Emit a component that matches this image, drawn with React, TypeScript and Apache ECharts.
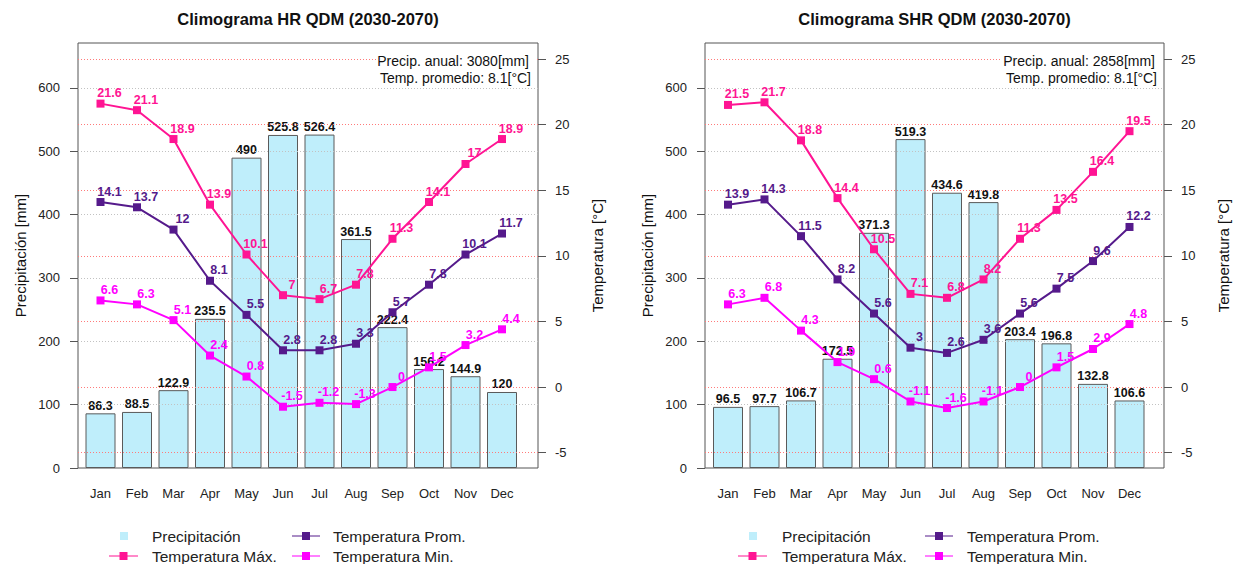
import React, { useEffect, useRef } from 'react';
import * as echarts from 'echarts';

const months = ['Jan', 'Feb', 'Mar', 'Apr', 'May', 'Jun', 'Jul', 'Aug', 'Sep', 'Oct', 'Nov', 'Dec'];

const precipHR = [86.3, 88.5, 122.9, 235.5, 490, 525.8, 526.4, 361.5, 222.4, 156.2, 144.9, 120];
const tmaxHR = [21.6, 21.1, 18.9, 13.9, 10.1, 7, 6.7, 7.8, 11.3, 14.1, 17, 18.9];
const tpromHR = [14.1, 13.7, 12, 8.1, 5.5, 2.8, 2.8, 3.3, 5.7, 7.8, 10.1, 11.7];
const tminHR = [6.6, 6.3, 5.1, 2.4, 0.8, -1.5, -1.2, -1.3, 0, 1.5, 3.2, 4.4];

const precipSHR = [96.5, 97.7, 106.7, 172.5, 371.3, 519.3, 434.6, 419.8, 203.4, 196.8, 132.8, 106.6];
const tmaxSHR = [21.5, 21.7, 18.8, 14.4, 10.5, 7.1, 6.8, 8.2, 11.3, 13.5, 16.4, 19.5];
const tpromSHR = [13.9, 14.3, 11.5, 8.2, 5.6, 3, 2.6, 3.6, 5.6, 7.5, 9.6, 12.2];
const tminSHR = [6.3, 6.8, 4.3, 1.9, 0.6, -1.1, -1.6, -1.1, 0, 1.5, 2.9, 4.8];

const titles = ['Climograma HR QDM (2030-2070)', 'Climograma SHR QDM (2030-2070)'];
const annualPrecip = ['3080', '2858'];
const meanTemp = ['8.1', '8.1'];

const precipTicks = [0, 100, 200, 300, 400, 500, 600];
const tempTicks = [-5, 0, 5, 10, 15, 20, 25];
const monthPositions = [1, 2, 3, 4, 5, 6, 7, 8, 9, 10, 11, 12];

const FONT = '"Liberation Sans", Arial, Helvetica, sans-serif';
const C_BAR = '#BFEEFB';
const C_MAX = '#FF1493';
const C_PROM = '#551A8B';
const C_MIN = '#FF00FF';
const C_GRID_GRAY = '#c2c2c2';
const C_GRID_RED = '#ff7a7a';

const panels = [
  {
    title: titles[0], precip: precipHR, tmax: tmaxHR, tprom: tpromHR, tmin: tminHR,
    annual: annualPrecip[0], mean: meanTemp[0],
    boxLeft: 78, boxRight: 538, janX: 100.5, step: 36.5,
    legend: { sq: 124, lineL: 109, lineR: 138, text: 152, lineL2: 292, lineR2: 320, text2: 333 },
  },
  {
    title: titles[1], precip: precipSHR, tmax: tmaxSHR, tprom: tpromSHR, tmin: tminSHR,
    annual: annualPrecip[1], mean: meanTemp[1],
    boxLeft: 705, boxRight: 1164, janX: 728, step: 36.5,
    legend: { sq: 753, lineL: 738, lineR: 767, text: 782, lineL2: 925, lineR2: 953, text2: 967 },
  },
];

const TOP = 43;
const HEIGHT = 425;

function buildOption() {
  const grid: any[] = [];
  const xAxis: any[] = [];
  const yAxis: any[] = [];
  const series: any[] = [];
  const graphic: any[] = [];

  panels.forEach((p, k) => {
    const width = p.boxRight - p.boxLeft;
    grid.push({
      left: p.boxLeft, top: TOP, width, height: HEIGHT,
      show: true, borderColor: '#555', borderWidth: 1, backgroundColor: 'transparent',
    });
    const decX = p.janX + 11 * p.step;
    xAxis.push({
      type: 'value', gridIndex: k,
      min: 1 - (p.janX - p.boxLeft) / p.step,
      max: 12 + (p.boxRight - decX) / p.step,
      axisLine: { show: false }, axisTick: { show: false }, splitLine: { show: false },
      axisLabel: {
        customValues: monthPositions,
        formatter: (v: number) => months[Math.round(v) - 1] || '',
        margin: 19, fontSize: 13, color: '#222', fontFamily: FONT,
      },
    });
    yAxis.push({
      type: 'value', gridIndex: k, position: 'left', min: 0, max: 671,
      axisLine: { show: false },
      axisTick: { show: true, length: 8, lineStyle: { color: '#555' }, customValues: precipTicks },
      axisLabel: { customValues: precipTicks, margin: 18, fontSize: 13, color: '#222', fontFamily: FONT },
      splitLine: { show: false },
      name: 'Precipitación [mm]', nameLocation: 'middle', nameGap: 50, nameRotate: 90,
      nameTextStyle: { fontSize: 15, color: '#111', fontFamily: FONT },
    });
    yAxis.push({
      type: 'value', gridIndex: k, position: 'right', min: -6.17, max: 26.22,
      axisLine: { show: false },
      axisTick: { show: true, length: 8, lineStyle: { color: '#555' }, customValues: tempTicks },
      axisLabel: { customValues: tempTicks, margin: 17, fontSize: 13, color: '#222', fontFamily: FONT },
      splitLine: { show: false },
      name: 'Temperatura [°C]', nameLocation: 'middle', nameGap: 52, nameRotate: 90,
      nameTextStyle: { fontSize: 15, color: '#111', fontFamily: FONT },
    });

    const grayLine = { type: [1, 2], color: C_GRID_GRAY, width: 1 };
    const redLine = { type: [1, 2], color: C_GRID_RED, width: 1 };

    series.push({
      type: 'bar', name: 'Precipitación', xAxisIndex: k, yAxisIndex: 2 * k,
      data: p.precip.map((v, i) => [i + 1, v]),
      barWidth: 30,
      itemStyle: { color: C_BAR, borderColor: '#5a5a5a', borderWidth: 1 },
      label: {
        show: true, position: 'top', distance: 1, fontWeight: 'bold', fontSize: 12.5,
        color: '#111', fontFamily: FONT, formatter: (q: any) => String(q.value[1]),
      },
      markLine: {
        silent: true, symbol: 'none', z: 2,
        label: { show: false },
        lineStyle: grayLine,
        data: precipTicks.filter((v) => v > 0).map((v) => ({ yAxis: v, lineStyle: grayLine })),
      },
      z: 1,
    });

    const lineSeries = [
      { name: 'Temperatura Máx.', data: p.tmax, color: C_MAX },
      { name: 'Temperatura Prom.', data: p.tprom, color: C_PROM },
      { name: 'Temperatura Min.', data: p.tmin, color: C_MIN },
    ];
    lineSeries.forEach((s, j) => {
      const ser: any = {
        type: 'line', name: s.name, xAxisIndex: k, yAxisIndex: 2 * k + 1,
        data: s.data.map((v, i) => [i + 1, v]),
        symbol: 'rect', symbolSize: 8, showAllSymbol: true,
        lineStyle: { color: s.color, width: 2 },
        itemStyle: { color: s.color },
        label: {
          show: true, position: 'top', distance: 0, offset: [9, 0],
          fontWeight: 'bold', fontSize: 12.5, color: s.color, fontFamily: FONT,
          formatter: (q: any) => String(q.value[1]),
        },
        z: 3,
      };
      if (j === 0) {
        ser.markLine = {
          silent: true, symbol: 'none', z: 2,
          label: { show: false },
          lineStyle: redLine,
          data: tempTicks.map((v) => ({ yAxis: v, lineStyle: redLine })),
        };
      }
      series.push(ser);
    });

    const cx = (p.boxLeft + p.boxRight) / 2;
    graphic.push({
      type: 'text', x: cx, y: 19, z: 100,
      style: {
        text: p.title, font: `bold 16.5px ${FONT}`, fill: '#111',
        align: 'center', verticalAlign: 'middle', textAlign: 'center', textVerticalAlign: 'middle',
      },
    });
    graphic.push({
      type: 'rect', z: 90, shape: { x: p.boxRight - 162, y: 49, width: 161, height: 37 },
      style: { fill: '#ffffff' },
    });
    graphic.push({
      type: 'text', x: p.boxRight - 9, y: 61, z: 100,
      style: {
        text: `Precip. anual: ${p.annual}[mm]`, font: `14px ${FONT}`, fill: '#111',
        align: 'right', verticalAlign: 'middle', textAlign: 'right', textVerticalAlign: 'middle',
      },
    });
    graphic.push({
      type: 'text', x: p.boxRight - 7, y: 77.5, z: 100,
      style: {
        text: `Temp. promedio: ${p.mean}[°C]`, font: `14px ${FONT}`, fill: '#111',
        align: 'right', verticalAlign: 'middle', textAlign: 'right', textVerticalAlign: 'middle',
      },
    });

    // Legend
    const L = p.legend;
    const row1 = 536;
    const row2 = 556;
    const legText = (t: string, x: number, y: number) => ({
      type: 'text', x, y, z: 100,
      style: {
        text: t, font: `15.5px ${FONT}`, fill: '#222',
        align: 'left', verticalAlign: 'middle', textAlign: 'left', textVerticalAlign: 'middle',
      },
    });
    const legLine = (x1: number, x2: number, y: number, color: string) => [
      { type: 'line', z: 100, shape: { x1, y1: y, x2, y2: y }, style: { stroke: color, lineWidth: 1 } },
      { type: 'rect', z: 101, shape: { x: (x1 + x2) / 2 - 4, y: y - 4, width: 8, height: 8 }, style: { fill: color } },
    ];
    graphic.push({ type: 'rect', z: 100, shape: { x: L.sq - 4, y: row1 - 4, width: 8, height: 8 }, style: { fill: C_BAR } });
    graphic.push(legText('Precipitación', L.text, row1));
    graphic.push(...legLine(L.lineL, L.lineR, row2, C_MAX));
    graphic.push(legText('Temperatura Máx.', L.text, row2));
    graphic.push(...legLine(L.lineL2, L.lineR2, row1, C_PROM));
    graphic.push(legText('Temperatura Prom.', L.text2, row1));
    graphic.push(...legLine(L.lineL2, L.lineR2, row2, C_MIN));
    graphic.push(legText('Temperatura Min.', L.text2, row2));
  });

  return {
    animation: false,
    backgroundColor: '#ffffff',
    textStyle: { fontFamily: FONT },
    grid, xAxis, yAxis, series, graphic,
  };
}

export default function App() {
  const ref = useRef<HTMLDivElement>(null);
  useEffect(() => {
    if (!ref.current) return;
    const chart = echarts.init(ref.current, undefined, { renderer: 'svg' });
    chart.setOption(buildOption() as any);
    return () => chart.dispose();
  }, []);
  return (
    <div
      ref={ref}
      style={{ position: 'fixed', left: 0, top: 0, width: 1238, height: 564, background: '#fff' }}
    />
  );
}
